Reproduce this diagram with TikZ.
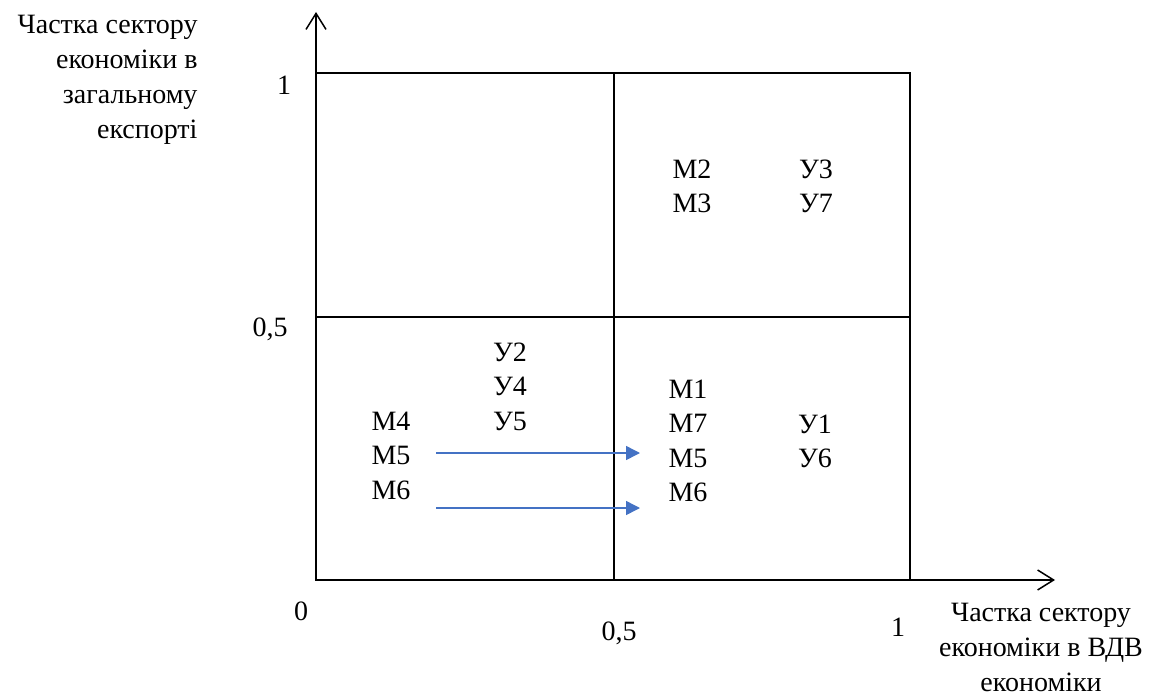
\documentclass[tikz,border=0pt]{standalone}
\usepackage{fontspec}
\setmainfont{Liberation Serif}
\usepackage{tikz}
\usetikzlibrary{positioning,arrows.meta}
\definecolor{shiftblue}{RGB}{68,114,196}

\begin{document}
\begin{tikzpicture}[x=1pt,y=-1pt,node distance=9pt,
  every node/.style={font=\fontsize{28}{35}\selectfont},
  lbl/.style={inner sep=0pt,text height=19pt,text depth=6pt},
  frame/.style={line width=1.5pt},
  axis/.style={line width=1.5pt,-{Straight Barb[length=16pt,width=20pt]}},
  moveline/.style={draw=shiftblue,line width=1.5pt,-{Triangle[length=14pt,width=14pt]}}]
  \useasboundingbox (0,0) rectangle (1166,698);
  % axes and quadrants
  \coordinate (o) at (316,580);
  \coordinate (ytip) at (316,12);
  \coordinate (xtip) at (1055,580);
  \draw[axis] (o) -- (ytip);
  \draw[axis] (o) -- (xtip);
  \draw[frame] (316,73) rectangle (910,580);
  \draw[frame] (614,73) -- (614,580);
  \draw[frame] (316,317) -- (910,317);
  % axis titles
  \node[align=right,anchor=east] (ylab) at (201,80) {Частка сектору\\економіки в\\загальному\\експорті};
  \node[align=center] (xlab) at (1041,647) {Частка сектору\\економіки в ВДВ\\економіки};
  % ticks
  \node[lbl] (y1) at (284,88) {1};
  \node[lbl] (y05) at (270,330) {0,5};
  \node[lbl] (x0) at (301,614) {0};
  \node[lbl] (x05) at (619,634) {0,5};
  \node[lbl] (x1) at (898,630) {1};
  % upper right
  \node[lbl] (m2) at (692,172) {М2};
  \node[lbl,below=of m2] (m3) {М3};
  \node[lbl] (u3) at (816,172) {У3};
  \node[lbl,below=of u3] (u7) {У7};
  % lower left
  \node[lbl] (u2) at (510,355) {У2};
  \node[lbl,below=of u2] (u4) {У4};
  \node[lbl,below=of u4] (u5) {У5};
  \node[lbl] (m4) at (391,424) {М4};
  \node[lbl,below=of m4] (m5a) {М5};
  \node[lbl,below=of m5a] (m6a) {М6};
  % lower right
  \node[lbl] (m1) at (688,392) {М1};
  \node[lbl,below=of m1] (m7) {М7};
  \node[lbl,below=of m7] (m5b) {М5};
  \node[lbl,below=of m5b] (m6b) {М6};
  \node[lbl] (u1) at (815,427) {У1};
  \node[lbl,below=of u1] (u6) {У6};
  % shifts
  \coordinate (s1) at (436,453);
  \coordinate (e1) at (640,453);
  \coordinate (s2) at (436,508);
  \coordinate (e2) at (640,508);
  \draw[moveline] (s1) -- (e1);
  \draw[moveline] (s2) -- (e2);
\end{tikzpicture}
\end{document}
